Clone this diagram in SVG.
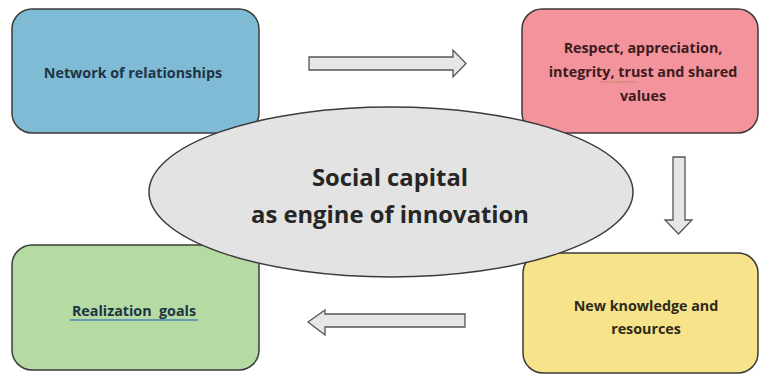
<svg xmlns="http://www.w3.org/2000/svg" width="760" height="375" viewBox="0 0 760 375">
<style>
.box{stroke:#3b3b3b;stroke-width:1.5}
.arr{fill:#e6e6e6;stroke:#555;stroke-width:1.3;stroke-linejoin:miter}
.t{font-family:"Open Sans","Liberation Sans",sans-serif;font-weight:bold;font-size:14.3px;text-anchor:middle}
.big{font-family:"Open Sans","Liberation Sans",sans-serif;font-weight:bold;font-size:23.8px;text-anchor:middle;fill:#262626}
</style>
<rect width="760" height="375" fill="#ffffff"/>
<g id="network">
<rect class="box" x="12" y="9" width="247" height="124" rx="20" fill="#7fbbd5"/>
<text class="t" x="133" y="78" fill="#1e3446">Network of relationships</text>
</g>
<g id="respect">
<rect class="box" x="522" y="9" width="236" height="124" rx="20" fill="#f3939b"/>
<text class="t" x="643" y="53" fill="#3a1c1e">Respect, appreciation,</text>
<text class="t" x="643" y="77" fill="#3a1c1e">integrity, trust and shared</text>
<text class="t" x="643" y="101" fill="#3a1c1e">values</text>
<line x1="601" y1="82" x2="636" y2="82" stroke="#9c7a4a" stroke-width="1" stroke-dasharray="1.5,1.5"/>
</g>
<g id="knowledge">
<rect class="box" x="523" y="253" width="235" height="120" rx="20" fill="#f6e38a"/>
<text class="t" x="646" y="311" fill="#2e2a1a">New knowledge and</text>
<text class="t" x="646" y="334" fill="#2e2a1a">resources</text>
</g>
<g id="goals">
<rect class="box" x="12" y="245" width="247" height="125" rx="20" fill="#b5dba3"/>
<text class="t" x="134" y="316" fill="#1e3446" xml:space="preserve">Realization  goals</text>
<line x1="70" y1="320" x2="198" y2="320" stroke="#4a86b0" stroke-width="1.6"/>
</g>
<g id="connectors">
<polygon class="arr" points="309,57 453,57 453,50 466,63.5 453,77 453,70 309,70"/>
<polygon class="arr" points="673,157 685,157 685,220 692,220 678.5,234 665,220 673,220"/>
<polygon class="arr" points="465,314 325,314 325,310 308,322 325,335 325,327 465,327"/>
</g>
<g id="social">
<ellipse cx="391" cy="192" rx="242" ry="85" fill="#e3e3e3" stroke="#3b3b3b" stroke-width="1.5"/>
<text class="big" x="390" y="186">Social capital</text>
<text class="big" x="390" y="223">as engine of innovation</text>
</g>
</svg>
